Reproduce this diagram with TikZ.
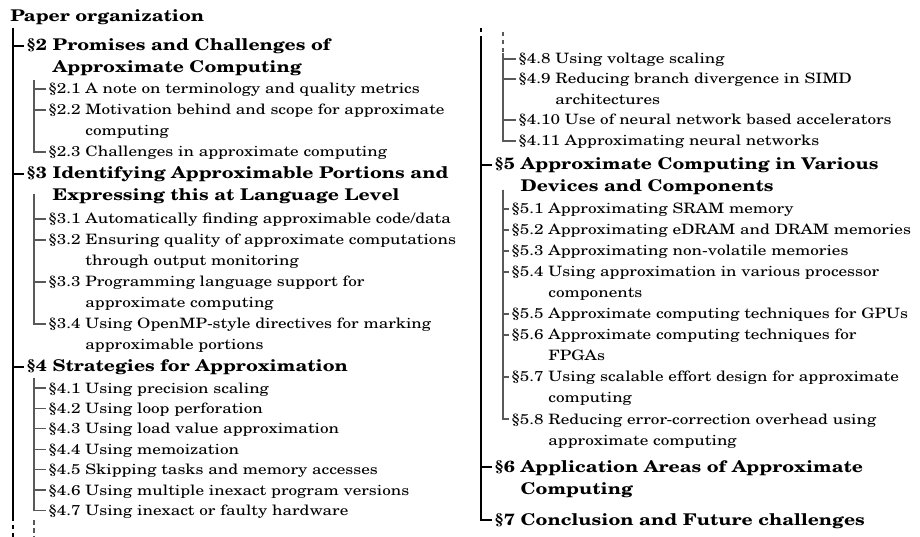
\documentclass[tikz,border=0pt]{standalone}
\usepackage[T1]{fontenc}
\usepackage{newcent}
% section number and a title that hangs under its first word
\newcommand{\entry}[2]{\scalebox{1.2}[1]{\begin{tabular}[t]{@{}l@{\ }l@{}}#1&#2\end{tabular}}}

\begin{document}
\begin{tikzpicture}[x=0.7pt,y=-0.7pt,
  root/.style={inner sep=0pt,anchor=base west,font=\fontsize{11.3}{15.4}\selectfont\bfseries},
  sect/.style={inner sep=0pt,anchor=base west,font=\fontsize{11.3}{15.4}\selectfont\bfseries},
  sub/.style={inner sep=0pt,anchor=base west,font=\fontsize{10}{14.7}\selectfont},
  trunk/.style={line width=1.1pt,black},
  twig/.style={line width=0.75pt,black!65},
  cut/.style={dash pattern=on 3pt off 2.5pt}]
\useasboundingbox (0,0) rectangle (920,537);

% left column
\node[root] (paper) at (10,22) {\scalebox{1.2}[1]{Paper organization}};
\node[sect] (s2) at (26,51) {\entry{\S2}{Promises and Challenges of\\&Approximate Computing}};
\node[sub] (s21) at (48,94) {\entry{\S2.1}{A note on terminology and quality metrics}};
\node[sub] (s22) at (48,115) {\entry{\S2.2}{Motivation behind and scope for approximate\\&computing}};
\node[sub] (s23) at (48,157) {\entry{\S2.3}{Challenges in approximate computing}};
\node[sect] (s3) at (26,179) {\entry{\S3}{Identifying Approximable Portions and\\&Expressing this at Language Level}};
\node[sub] (s31) at (48,224) {\entry{\S3.1}{Automatically finding approximable code/data}};
\node[sub] (s32) at (48,245) {\entry{\S3.2}{Ensuring quality of approximate computations\\&through output monitoring}};
\node[sub] (s33) at (48,287) {\entry{\S3.3}{Programming language support for\\&approximate computing}};
\node[sub] (s34) at (48,329) {\entry{\S3.4}{Using OpenMP-style directives for marking\\&approximable portions}};
\node[sect] (s4) at (26,372) {\entry{\S4}{Strategies for Approximation}};
\foreach \t [count=\i] in {Using precision scaling,Using loop perforation,
    Using load value approximation,Using memoization,
    Skipping tasks and memory accesses,Using multiple inexact program versions,
    Using inexact or faulty hardware}
  \node[sub] (s4\i) at (48,{372.6+20.4*\i}) {\entry{\S4.\i}{\t}};

% right column
\node[sub] (s48) at (518,64) {\entry{\S4.8}{Using voltage scaling}};
\node[sub] (s49) at (518,84) {\entry{\S4.9}{Reducing branch divergence in SIMD\\&architectures}};
\node[sub] (s410) at (518,125) {\entry{\S4.10}{Use of neural network based accelerators}};
\node[sub] (s411) at (518,146) {\entry{\S4.11}{Approximating neural networks}};
\node[sect] (s5) at (494,170) {\entry{\S5}{Approximate Computing in Various\\&Devices and Components}};
\node[sub] (s51) at (511,214) {\entry{\S5.1}{Approximating SRAM memory}};
\node[sub] (s52) at (511,235) {\entry{\S5.2}{Approximating eDRAM and DRAM memories}};
\node[sub] (s53) at (511,256) {\entry{\S5.3}{Approximating non-volatile memories}};
\node[sub] (s54) at (511,277) {\entry{\S5.4}{Using approximation in various processor\\&components}};
\node[sub] (s55) at (511,319) {\entry{\S5.5}{Approximate computing techniques for GPUs}};
\node[sub] (s56) at (511,340) {\entry{\S5.6}{Approximate computing techniques for\\&FPGAs}};
\node[sub] (s57) at (511,382) {\entry{\S5.7}{Using scalable effort design for approximate\\&computing}};
\node[sub] (s58) at (511,424) {\entry{\S5.8}{Reducing error-correction overhead using\\&approximate computing}};
\node[sect] (s6) at (494,472) {\entry{\S6}{Application Areas of Approximate\\&Computing}};
\node[sect] (s7) at (494,525) {\entry{\S7}{Conclusion and Future challenges}};

\coordinate (trunkL) at (13,28);
\coordinate (trunkLend) at (13,517);
\coordinate (trunkLcut) at (13,537);
\coordinate (tw2) at (34,80);
\coordinate (tw3) at (34,194);
\coordinate (tw4) at (34,378);
\coordinate (tw4cut) at (34,537);
\coordinate (trunkRcut) at (481,28);
\coordinate (trunkR) at (481,39);
\coordinate (tw48cut) at (503,32);
\coordinate (tw48) at (503,53);
\coordinate (tw5) at (503,190);

% tree lines
\foreach \n in {s2,s3,s4}
  \draw[trunk] (trunkL) |- ([shift={(-1.5pt,3.5pt)}]\n.base west);
\draw[trunk] (trunkL) -- (trunkLend);
\draw[trunk,cut] (trunkLend) -- (trunkLcut);
\foreach \n in {s21,s22,s23}
  \draw[twig] (tw2) |- ([shift={(-1.5pt,3.5pt)}]\n.base west);
\foreach \n in {s31,s32,s33,s34}
  \draw[twig] (tw3) |- ([shift={(-1.5pt,3.5pt)}]\n.base west);
\foreach \i in {1,...,7}
  \draw[twig] (tw4) |- ([shift={(-1.5pt,3.5pt)}]s4\i.base west);
\draw[twig,cut] ([yshift=-3.5pt]s47.base west -| tw4) -- (tw4cut);

\draw[trunk,cut] (trunkRcut) -- (trunkR);
\foreach \n in {s5,s6,s7}
  \draw[trunk] (trunkR) |- ([shift={(-1.5pt,3.5pt)}]\n.base west);
\draw[twig,cut] (tw48cut) -- (tw48);
\foreach \n in {s48,s49,s410,s411}
  \draw[twig] (tw48) |- ([shift={(-1.5pt,3.5pt)}]\n.base west);
\foreach \n in {s51,s52,s53,s54,s55,s56,s57,s58}
  \draw[twig] (tw5) |- ([shift={(-1.5pt,3.5pt)}]\n.base west);
\end{tikzpicture}
\end{document}
